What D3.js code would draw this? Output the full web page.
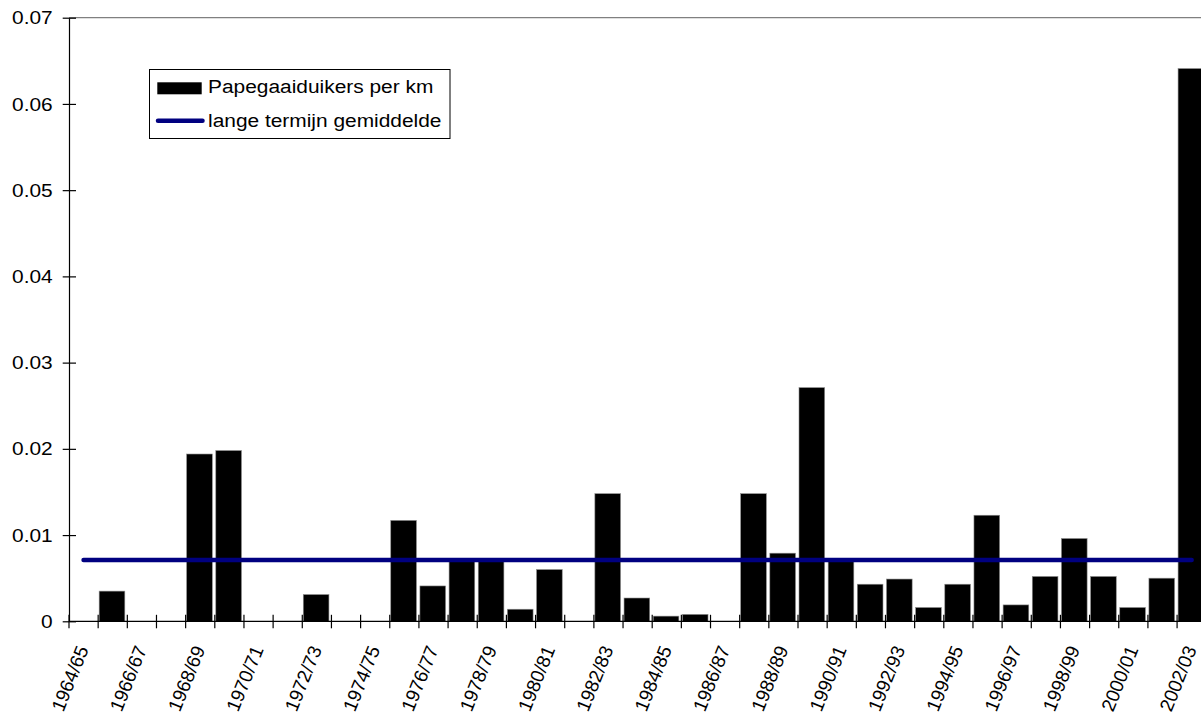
<!DOCTYPE html>
<html>
<head>
<meta charset="utf-8">
<script src="https://cdn.jsdelivr.net/npm/d3@7/dist/d3.min.js"></script>
<style>
  html, body { margin: 0; padding: 0; background: #fff; }
  svg { display: block; }
  text { font-family: "Liberation Sans", Arial, sans-serif; fill: #000; }
</style>
</head>
<body>
<svg id="chart" width="1201" height="716"></svg>
<script>
const seasons = ["1964/65","1965/66","1966/67","1967/68","1968/69","1969/70","1970/71","1971/72",
  "1972/73","1973/74","1974/75","1975/76","1976/77","1977/78","1978/79","1979/80","1980/81",
  "1981/82","1982/83","1983/84","1984/85","1985/86","1986/87","1987/88","1988/89","1989/90",
  "1990/91","1991/92","1992/93","1993/94","1994/95","1995/96","1996/97","1997/98","1998/99",
  "1999/00","2000/01","2001/02","2002/03"];
const puffinsPerKm = [null,0.0035,null,null,0.0194,0.0198,null,null,
  0.0031,null,null,0.0117,0.0041,0.0072,0.0071,0.0014,0.0060,
  null,0.0148,0.0027,0.0006,0.0008,null,0.0148,0.0079,0.0271,
  0.0071,0.0043,0.0049,0.0016,0.0043,0.0123,0.0019,0.0052,0.0096,
  0.0052,0.0016,0.0050,0.0641];
const longTermMean = 0.0071;
const xTickLabels = ["1964/65","1966/67","1968/69","1970/71","1972/73","1974/75","1976/77",
  "1978/79","1980/81","1982/83","1984/85","1986/87","1988/89","1990/91","1992/93","1994/95",
  "1996/97","1998/99","2000/01","2002/03"];
const yTicks = [0,0.01,0.02,0.03,0.04,0.05,0.06,0.07];
const legendLabels = ["Papegaaiduikers per km","lange termijn gemiddelde"];

(function () {
const svg = d3.select("#chart");
const pLeft = 69, pTop = 17.7, pBottom = 621.3, step = 29.16;
const sx = 1.1;
const x = d3.scaleBand().domain(seasons).range([pLeft, pLeft + step * seasons.length]).padding(0);
const y = d3.scaleLinear().domain([0, 0.07]).range([pBottom, pTop]);

// plot area top border
svg.append("line").attr("x1", pLeft).attr("x2", 1201).attr("y1", pTop).attr("y2", pTop)
  .attr("stroke", "#808080").attr("stroke-width", 1.2);

// bars
svg.append("g").selectAll("rect")
  .data(seasons.map((s, i) => ({s, v: puffinsPerKm[i]})).filter(d => d.v != null))
  .join("rect")
  .attr("x", d => x(d.s) + 1)
  .attr("width", x.bandwidth() * 0.88)
  .attr("y", d => y(d.v))
  .attr("height", d => y(0) - y(d.v))
  .attr("fill", "#000")
  .attr("stroke", "#8c8c8c").attr("stroke-width", 0.6);

// y axis
const yAxis = d3.axisLeft(y).tickValues(yTicks).tickSize(0)
  .tickFormat(d => d === 0 ? "0" : d3.format(".2f")(d));
const gy = svg.append("g").attr("transform", `translate(${pLeft},0)`).call(yAxis);
gy.select(".domain").attr("stroke", "#000").attr("stroke-width", 1.2);
gy.selectAll(".tick line").remove();
gy.selectAll(".tick").append("line").attr("x1", -6.3).attr("x2", 7).attr("stroke", "#000").attr("stroke-width", 1.2);
gy.selectAll(".tick text").attr("x", 0).attr("transform", `translate(-16.3,0) scale(${sx},1)`)
  .attr("font-size", 19).attr("font-family", "Liberation Sans, Arial, sans-serif").attr("fill", "#000");

// x axis
svg.append("line").attr("x1", pLeft).attr("x2", 1201).attr("y1", pBottom).attr("y2", pBottom)
  .attr("stroke", "#000").attr("stroke-width", 1.2);
const gx = svg.append("g");
gx.selectAll("line").data(seasons).join("line")
  .attr("x1", d => x(d)).attr("x2", d => x(d))
  .attr("y1", pBottom - 6.5).attr("y2", pBottom + 7)
  .attr("stroke", "#000").attr("stroke-width", 1.2);
gx.selectAll("text").data(xTickLabels).join("text")
  .attr("transform", d => `translate(${x(d) + 1},678.5) rotate(-68)`)
  .attr("text-anchor", "middle").attr("dominant-baseline", "central")
  .attr("font-size", 19)
  .text(d => d);

// long-term mean line
svg.append("line")
  .attr("x1", x(seasons[0]) + x.bandwidth() / 2)
  .attr("x2", x(seasons[seasons.length - 1]) + x.bandwidth() / 2)
  .attr("y1", y(longTermMean)).attr("y2", y(longTermMean))
  .attr("stroke", "#000080").attr("stroke-width", 4.5).attr("stroke-linecap", "round");

// legend
const lg = svg.append("g");
lg.append("rect").attr("x", 149.5).attr("y", 69.5).attr("width", 300.5).attr("height", 69)
  .attr("fill", "#fff").attr("stroke", "#000").attr("stroke-width", 1);
lg.append("rect").attr("x", 157.3).attr("y", 82.3).attr("width", 44.4).attr("height", 12).attr("fill", "#000");
lg.append("line").attr("x1", 158).attr("x2", 202.5).attr("y1", 120.7).attr("y2", 120.7)
  .attr("stroke", "#000080").attr("stroke-width", 4.5).attr("stroke-linecap", "round");
lg.append("text").attr("transform", `translate(208,93.3) scale(${sx},1)`).attr("font-size", 19).text(legendLabels[0]);
lg.append("text").attr("transform", `translate(208,127.3) scale(${sx},1)`).attr("font-size", 19).text(legendLabels[1]);
})();
</script>
</body>
</html>
